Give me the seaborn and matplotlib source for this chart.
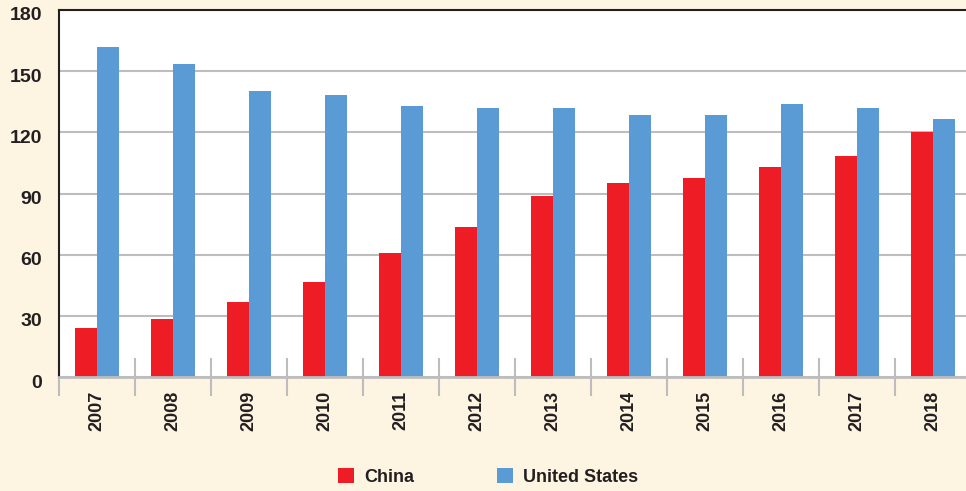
import numpy as np
import pandas as pd
import matplotlib
matplotlib.use("Agg")
import matplotlib.pyplot as plt
from matplotlib.patches import Patch
from matplotlib.ticker import FixedLocator
from matplotlib.transforms import ScaledTranslation
import seaborn as sns

years = ["2007", "2008", "2009", "2010", "2011", "2012",
         "2013", "2014", "2015", "2016", "2017", "2018"]
china = [24, 28.5, 37, 46.5, 61, 73.5, 89, 95, 97.5, 103, 108.5, 120]
united_states = [162, 153.5, 140.5, 138.5, 133, 132, 132, 128.5, 128.5, 134, 132, 126.5]
series_names = ["China", "United States"]
series_colors = ["#EE1C25", "#5B9BD5"]
y_ticks = [0, 30, 60, 90, 120, 150, 180]

df = pd.DataFrame({
    "year": years * 2,
    "value": china + united_states,
    "country": [series_names[0]] * len(years) + [series_names[1]] * len(years),
})

sns.set_theme(style="white")
plt.rcParams["font.family"] = ["Liberation Sans Narrow", "Liberation Sans", "DejaVu Sans"]

bg = "#FDF5E2"
ink = "#231F20"
fig = plt.figure(figsize=(9.66, 4.91), dpi=100, facecolor=bg)
ax = fig.add_axes([59 / 966, 1 - 377 / 491, 912 / 966, 367 / 491])
ax.set_facecolor("white")

sns.barplot(data=df, x="year", y="value", hue="country", order=years,
            hue_order=series_names, palette=series_colors, width=0.58,
            gap=0, dodge=True, saturation=1, legend=False, linewidth=0,
            ax=ax)

ax.set_ylim(0, 180)
ax.set_xlim(-0.5, len(years) - 0.5)
ax.set_yticks(y_ticks)
ax.set_yticklabels([str(t) for t in y_ticks], fontsize=14, color=ink,
                   fontweight="bold")
ax.yaxis.grid(True, color="#BDBDBD", linewidth=1.5)
ax.set_axisbelow(True)
ax.tick_params(axis="y", length=0, pad=12)
# value labels sit a little below their gridlines
shift = ScaledTranslation(0, -4 / 100, fig.dpi_scale_trans)
for lbl in ax.get_yticklabels():
    lbl.set_transform(lbl.get_transform() + shift)

ax.set_xticks(range(len(years)))
ax.set_xticklabels(years, rotation=90, fontsize=13, color=ink,
                   fontweight="bold")
ax.xaxis.set_minor_locator(FixedLocator(np.arange(-0.5, len(years), 1.0)))
ax.tick_params(axis="x", which="major", bottom=True, length=0, pad=10)
ax.tick_params(axis="x", which="minor", bottom=True, length=27, width=1.5,
               color="#BDBDBD", direction="inout")

ax.set_xlabel("")
ax.set_ylabel("")
for side in ["left", "top"]:
    ax.spines[side].set_color(ink)
    ax.spines[side].set_linewidth(1.5)
ax.spines["right"].set_visible(False)
ax.spines["bottom"].set_color("#BDBDBD")
ax.spines["bottom"].set_linewidth(2)

handles = [Patch(facecolor=c, edgecolor="none") for c in series_colors]
leg = fig.legend(handles, series_names, loc="center",
                 bbox_to_anchor=(488 / 966, 1 - 477 / 491),
                 ncol=2, frameon=False, handlelength=0.9, handleheight=0.9,
                 handletextpad=0.55, columnspacing=4.6,
                 prop={"weight": "bold", "size": 13})
for t in leg.get_texts():
    t.set_color(ink)

fig.savefig("out.png", dpi=100, facecolor=bg)
